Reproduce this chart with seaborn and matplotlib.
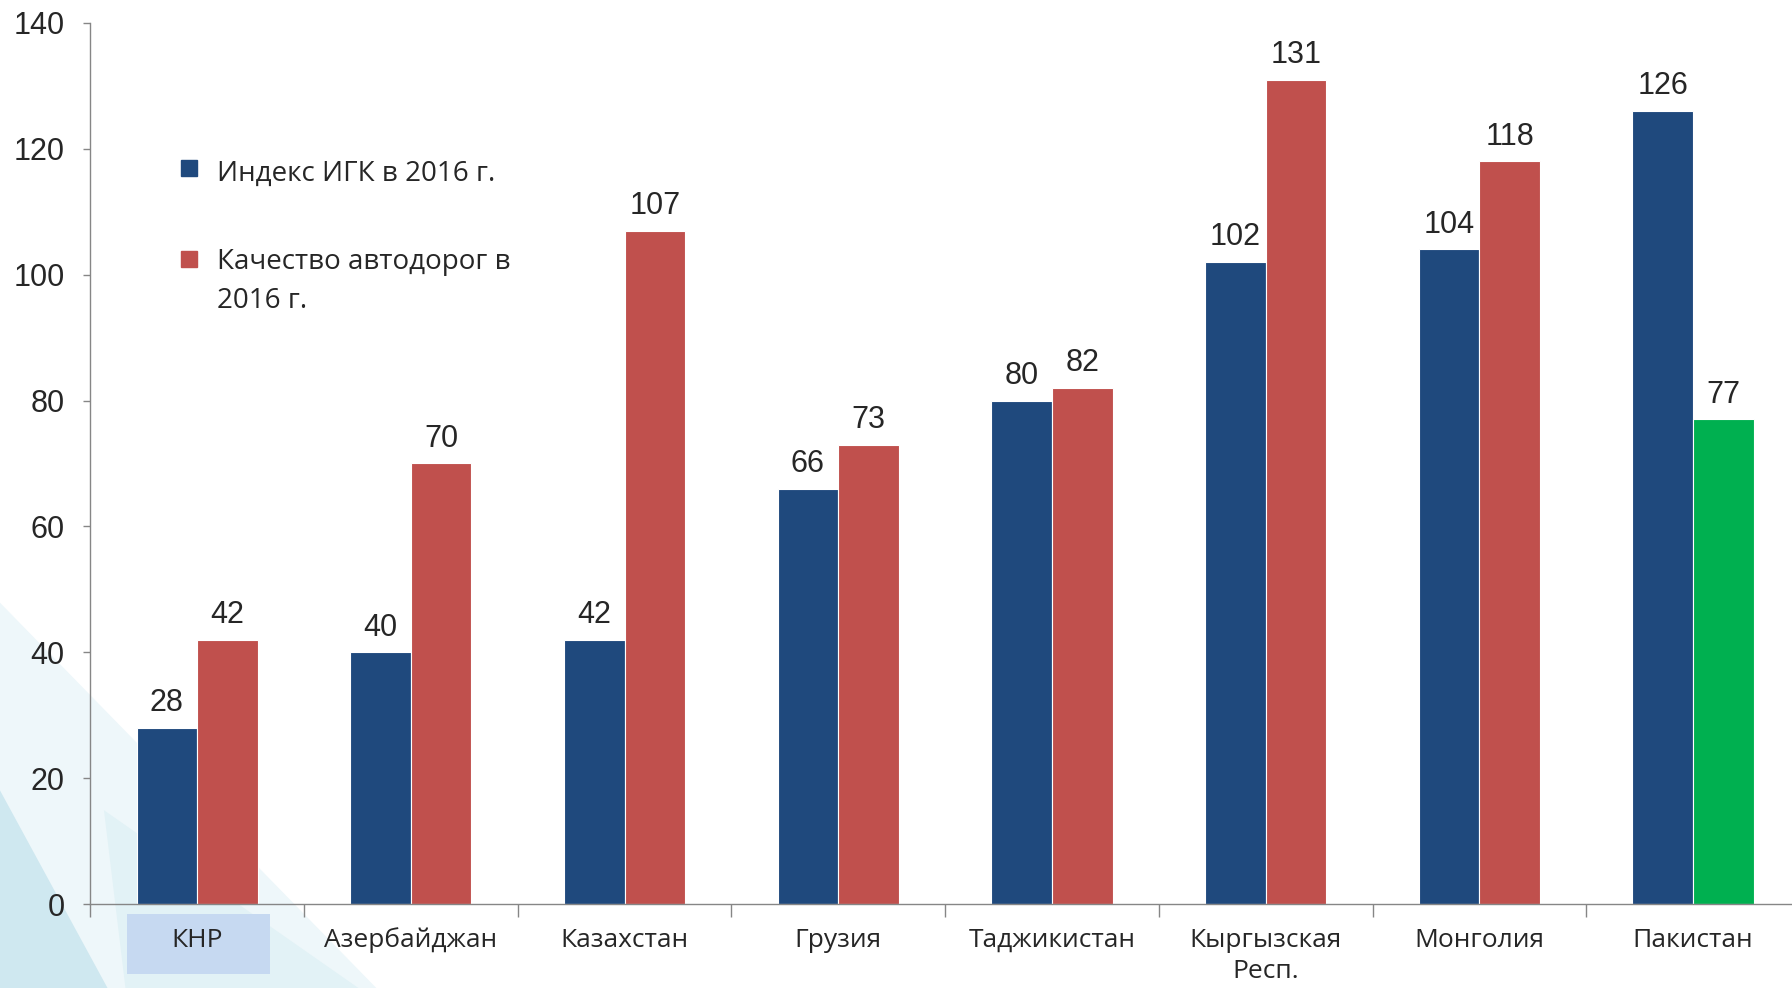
import matplotlib
matplotlib.use('Agg')
import matplotlib.pyplot as plt
import matplotlib.patches as mpatches
import matplotlib.transforms as mtransforms
import pandas as pd
import seaborn as sns

countries = ['КНР', 'Азербайджан', 'Казахстан', 'Грузия', 'Таджикистан',
             'Кыргызская\nРесп.', 'Монголия', 'Пакистан']
igk_2016 = [28, 40, 42, 66, 80, 102, 104, 126]
roads_2016 = [42, 70, 107, 73, 82, 131, 118, 77]
series_names = ['Индекс ИГК в 2016 г.', 'Качество автодорог в\n2016 г.']
y_ticks = [0, 20, 40, 60, 80, 100, 120, 140]

blue = '#1f497d'
red = '#c0504d'
green = '#00b050'

df = pd.DataFrame({
    'country': countries * 2,
    'series': [series_names[0]] * len(countries) + [series_names[1]] * len(countries),
    'value': igk_2016 + roads_2016,
})

sns.set_style('white')
plt.rcParams['font.family'] = ['Open Sans', 'DejaVu Sans']

fig = plt.figure(figsize=(17.92, 9.88), dpi=100)

# pale background shapes, bottom left
for pts, col in [
    ([(0, 0.39), (0.21, 0), (0, 0)], '#eef7fa'),
    ([(0.058, 0.18), (0.2, 0), (0.07, 0)], '#e2f2f6'),
    ([(0, 0.2), (0.06, 0), (0, 0)], '#cfe8f0'),
]:
    fig.patches.append(mpatches.Polygon(pts, closed=True, transform=fig.transFigure,
                                        facecolor=col, edgecolor='none', zorder=-5))

ax = fig.add_axes([0.0504, 0.085, 0.9496, 0.8918])
ax.patch.set_alpha(0)

sns.barplot(data=df, x='country', y='value', hue='series', palette=[blue, red],
            saturation=1, width=0.567, gap=0, linewidth=0.8, edgecolor='white',
            ax=ax, legend=False, errorbar=None)

# last roads bar is green
ax.containers[1][7].set_facecolor(green)

for c in ax.containers:
    ax.bar_label(c, padding=7, fontsize=22, family='Liberation Sans')

ax.set_yticks(y_ticks)
ax.set_yticklabels([str(v) for v in y_ticks], family='Liberation Sans', fontsize=22)
ax.tick_params(axis='y', length=5, width=1, color='#868686', pad=13.5, left=True)

ax.set_xticks(range(len(countries)))
ax.set_xticklabels(countries, fontsize=19, linespacing=1.35)
ax.set_xticks([i - 0.5 for i in range(len(countries) + 1)], minor=True)
ax.tick_params(axis='x', which='major', length=0, pad=17)
ax.tick_params(axis='x', which='minor', length=9, width=1, color='#868686', bottom=True)
ax.set_xlabel('')
ax.set_ylabel('')
ax.set_ylim(0, 140)
ax.set_xlim(-0.5, 7.463)

for s in ['top', 'right']:
    ax.spines[s].set_visible(False)
for s in ['left', 'bottom']:
    ax.spines[s].set_color('#868686')
    ax.spines[s].set_linewidth(1)

# highlight box behind first category label
trans = mtransforms.blended_transform_factory(ax.transData, ax.transAxes)
ax.add_patch(mpatches.Rectangle((-0.33, -0.079), 0.67, 0.0673, transform=trans,
                                facecolor='#c6d9f1', edgecolor='none', clip_on=False, zorder=-1))

# legend
ax.plot([0.0578], [0.835], marker='s', markersize=11.5, color=blue,
        transform=ax.transAxes, clip_on=False)
ax.text(0.0745, 0.829, series_names[0], transform=ax.transAxes,
        fontsize=20, va='center', ha='left')
ax.plot([0.0578], [0.7315], marker='s', markersize=11.5, color=red,
        transform=ax.transAxes, clip_on=False)
ax.text(0.0745, 0.7063, series_names[1], transform=ax.transAxes,
        fontsize=20, va='center', ha='left', linespacing=1.5)

fig.savefig('out.png', dpi=100)
